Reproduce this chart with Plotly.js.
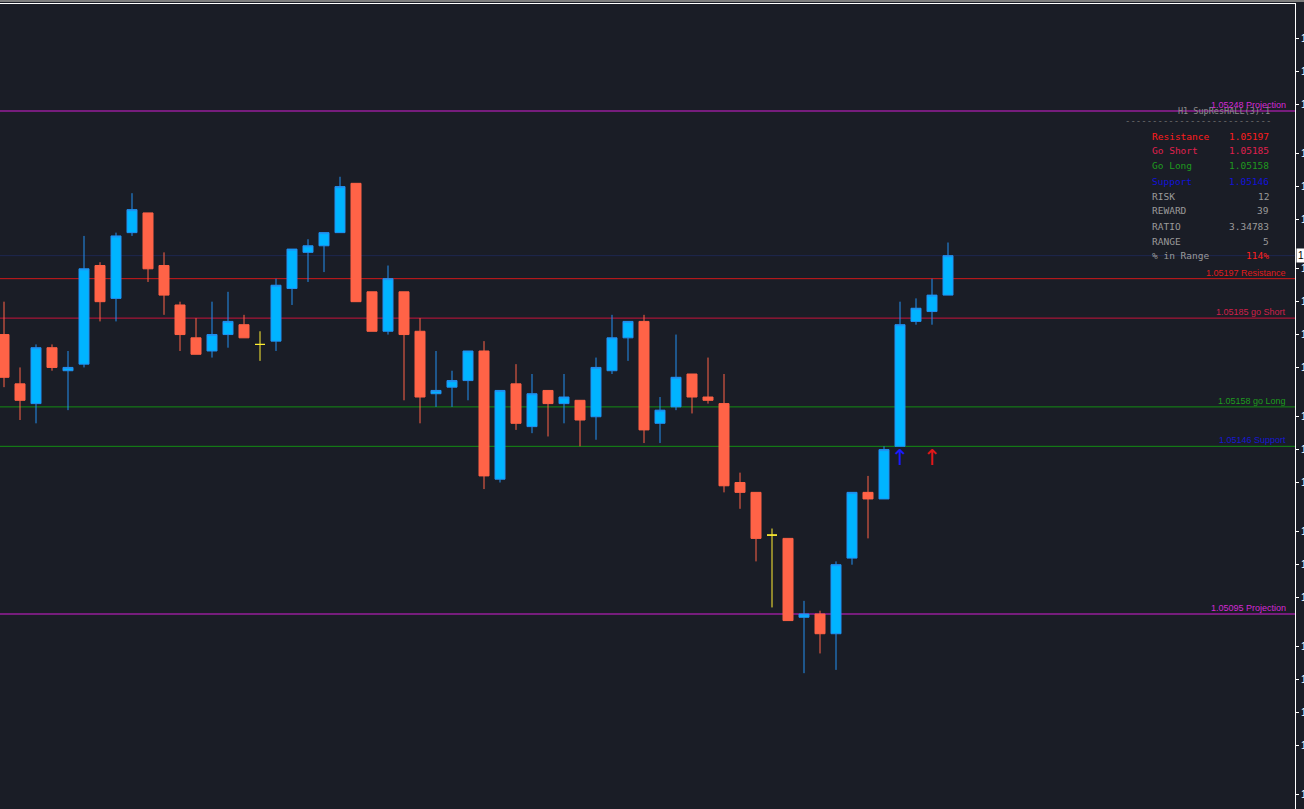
<!DOCTYPE html>
<html><head><meta charset="utf-8">
<script src="https://cdn.plot.ly/plotly-3.0.1.min.js"></script>
<style>
html,body{margin:0;padding:0;background:#1a1d26;overflow:hidden;}
#chart{position:absolute;left:0;top:0;width:1304px;height:809px;}
#topbar{position:absolute;left:0;top:0;width:1304px;height:2px;background:#7d7d7d;z-index:5;}
</style></head><body>
<div id="chart"></div><div id="topbar"></div>
<script>
// ---- candle data (H1 bars, oldest -> newest) ----
const opens = [
 1.05180,1.05165,1.05159,1.05176,1.05169,1.05171,1.05201,1.05191,1.05211,1.05217,
 1.05201,1.05189,1.05179,1.05175,1.05180,1.05183,1.05177,1.05178,1.05194,1.05205,
 1.05207,1.05211,1.05226,1.05193,1.05181,1.05193,1.05181,1.05162,1.05164,1.05166,
 1.05175,1.05136,1.05165,1.05152,1.05163,1.05159,1.05160,1.05155,1.05169,1.05179,
 1.05184,1.05153,1.05158,1.05168,1.05161,1.05159,1.05135,1.05132,1.05119,1.05118,
 1.05094,1.05095,1.05089,1.05112,1.05132,1.05130,1.05146,1.05184,1.05187,1.05192];
const highs = [
 1.05190,1.05170,1.05177,1.05177,1.05175,1.05210,1.05202,1.05211,1.05223,1.05217,
 1.05205,1.05190,1.05185,1.05190,1.05193,1.05186,1.05181,1.05197,1.05206,1.05209,
 1.05211,1.05228,1.05226,1.05193,1.05201,1.05193,1.05185,1.05175,1.05169,1.05175,
 1.05178,1.05163,1.05171,1.05168,1.05163,1.05168,1.05160,1.05173,1.05186,1.05184,
 1.05186,1.05161,1.05180,1.05168,1.05173,1.05168,1.05138,1.05132,1.05121,1.05118,
 1.05099,1.05096,1.05111,1.05132,1.05137,1.05146,1.05190,1.05191,1.05197,1.05208];
const lows = [
 1.05164,1.05154,1.05153,1.05169,1.05157,1.05170,1.05184,1.05184,1.05210,1.05196,
 1.05186,1.05175,1.05174,1.05173,1.05176,1.05179,1.05172,1.05175,1.05189,1.05196,
 1.05199,1.05211,1.05190,1.05181,1.05180,1.05160,1.05153,1.05158,1.05158,1.05160,
 1.05133,1.05135,1.05151,1.05150,1.05149,1.05153,1.05146,1.05148,1.05168,1.05172,
 1.05147,1.05147,1.05157,1.05156,1.05159,1.05132,1.05127,1.05111,1.05097,1.05093,
 1.05077,1.05083,1.05078,1.05110,1.05118,1.05130,1.05146,1.05183,1.05183,1.05192];
const closes = [
 1.05167,1.05160,1.05176,1.05170,1.05170,1.05200,1.05190,1.05210,1.05218,1.05200,
 1.05192,1.05180,1.05174,1.05180,1.05184,1.05179,1.05177,1.05195,1.05206,1.05207,
 1.05211,1.05225,1.05190,1.05181,1.05197,1.05180,1.05161,1.05163,1.05166,1.05175,
 1.05137,1.05163,1.05153,1.05162,1.05159,1.05161,1.05154,1.05170,1.05179,1.05184,
 1.05151,1.05157,1.05167,1.05161,1.05160,1.05134,1.05132,1.05118,1.05119,1.05093,
 1.05095,1.05089,1.05110,1.05132,1.05130,1.05145,1.05183,1.05188,1.05192,1.05204];

// ---- indicator levels ----
const levelNames  = ['Projection','Resistance','go Short','go Long','Support','Projection'];
const levelPrices = [1.05248, 1.05197, 1.05185, 1.05158, 1.05146, 1.05095];
const bidPrice = 1.05204;

// ---- signal arrows ----
const arrowIdx   = [56, 58];
const arrowPrice = [1.05142, 1.05142];

// ---- info panel ----
const panelTitle  = 'H1 SupResHALL(3).1';
const panelLabels = ['Resistance','Go Short','Go Long','Support','RISK','REWARD','RATIO','RANGE','% in Range'];
const panelValues = ['1.05197','1.05185','1.05158','1.05146','12','39','3.34783','5','114%'];

// ---- price scale ticks ----
const tickPrices = [1.05270,1.05260,1.05250,1.05235,1.05225,1.05215,1.05200,1.05190,1.05180,1.05170,
                    1.05155,1.05145,1.05135,1.05120,1.05110,1.05100,1.05085,1.05075,1.05065,1.05055,1.05040];

// ---- styles ----
const levelLineColors  = ['#d21fd2','#d01a1a','#c8143c','#148c14','#148c14','#d21fd2'];
const levelLabelColors = ['#d42ad4','#e01c1c','#d0204a','#1f9a1f','#1818d0','#d42ad4'];
const panelLabelColors = ['#ff1c1c','#e0204e','#1f9a1f','#1212d8','#9a9a9a','#9a9a9a','#9a9a9a','#9a9a9a','#9a9a9a'];
const panelValueColors = ['#ff1c1c','#e0204e','#1f9a1f','#1212d8','#9a9a9a','#9a9a9a','#9a9a9a','#9a9a9a','#ff2020'];

const PW = 1295, PT = 4, PB = 809, PH = PB - PT;
const px = v => v / PW;
const py = v => (PB - v) / PH;

const idx = opens.map((_, i) => i);
const mainI = idx.filter(i => opens[i] !== closes[i]);
const dojiI = idx.filter(i => opens[i] === closes[i]);
const pick = (arr, sel) => sel.map(i => arr[i]);

const traces = [
  {
    type: 'candlestick',
    x: mainI, open: pick(opens, mainI), high: pick(highs, mainI), low: pick(lows, mainI), close: pick(closes, mainI),
    increasing: {line: {color: '#2290f0', width: 1}, fillcolor: '#00b4ff'},
    decreasing: {line: {color: '#ff6347', width: 1}, fillcolor: '#ff6347'},
    hoverinfo: 'skip', showlegend: false
  },
  {
    type: 'candlestick',
    x: dojiI, open: pick(opens, dojiI), high: pick(highs, dojiI), low: pick(lows, dojiI), close: pick(closes, dojiI),
    increasing: {line: {color: '#ffee33', width: 1}, fillcolor: '#ffee33'},
    decreasing: {line: {color: '#ffee33', width: 1}, fillcolor: '#ffee33'},
    hoverinfo: 'skip', showlegend: false
  },
  {
    type: 'scatter', mode: 'text',
    x: arrowIdx, y: arrowPrice, text: arrowIdx.map(() => '↑'),
    textposition: 'middle center',
    textfont: {family: 'DejaVu Sans', size: 22, color: ['#1a1aff', '#e01818']},
    hoverinfo: 'skip', showlegend: false
  }
];

const shapes = [];
shapes.push({type: 'line', xref: 'paper', x0: 0, x1: 1, yref: 'y', y0: bidPrice, y1: bidPrice,
             line: {color: '#1e2750', width: 1}, layer: 'below'});
levelPrices.forEach((p, k) => {
  shapes.push({type: 'line', xref: 'paper', x0: 0, x1: 1, yref: 'y', y0: p, y1: p,
               line: {color: levelLineColors[k], width: 1}, layer: 'below'});
});

const annotations = [];
levelPrices.forEach((p, k) => {
  annotations.push({xref: 'paper', x: px(1288), xanchor: 'right', yref: 'y', y: p, yanchor: 'middle', yshift: 6,
    text: p.toFixed(5) + ' ' + levelNames[k], showarrow: false,
    font: {family: 'Liberation Sans, Arial, sans-serif', size: 9, color: levelLabelColors[k]}});
});
const monoFont = 'DejaVu Sans Mono, monospace';
annotations.unshift({xref: 'paper', x: px(1272), xanchor: 'right', yref: 'paper', y: py(111.5), yanchor: 'middle',
  text: panelTitle, showarrow: false, font: {family: monoFont, size: 8.5, color: '#8c8c8c'}});
annotations.unshift({xref: 'paper', x: px(1273), xanchor: 'right', yref: 'paper', y: py(121), yanchor: 'middle',
  text: '---------------------------', showarrow: false, font: {family: monoFont, size: 9, color: '#707070'}});
panelLabels.forEach((lab, k) => {
  const yy = py(136 + 15 * k);
  annotations.push({xref: 'paper', x: px(1150), xanchor: 'left', yref: 'paper', y: yy, yanchor: 'middle',
    text: lab, showarrow: false, font: {family: monoFont, size: 9.5, color: panelLabelColors[k]}});
  annotations.push({xref: 'paper', x: px(1271), xanchor: 'right', yref: 'paper', y: yy, yanchor: 'middle',
    text: panelValues[k], showarrow: false, font: {family: monoFont, size: 9.5, color: panelValueColors[k]}});
});
// current price marker on the scale
annotations.push({xref: 'paper', x: 1, xanchor: 'left', xshift: 1, yref: 'y', y: bidPrice, yanchor: 'middle',
  text: bidPrice.toFixed(5), showarrow: false, bgcolor: '#ffffff', borderpad: 1,
  font: {family: 'Liberation Sans, Arial, sans-serif', size: 10, color: '#000000'}});

// y range from pixel geometry of the reference (3.2876 px per point)
const ppp = 3.2876;
const yTop = 1.05248 + (111 - PT) / ppp * 1e-5;
const yBot = 1.05248 - (PB - 111) / ppp * 1e-5;

const layout = {
  width: 1304, height: 809,
  margin: {l: 0, r: 1304 - PW, t: PT, b: 0, pad: 0},
  paper_bgcolor: '#1a1d26', plot_bgcolor: '#1a1d26',
  showlegend: false, hovermode: false,
  boxgap: 0.375, boxgroupgap: 0,
  xaxis: {range: [-0.25, (PW - 4) / 16], showgrid: false, zeroline: false, showticklabels: false, ticks: '',
          side: 'top', showline: true, linecolor: '#ffffff', linewidth: 1, rangeslider: {visible: false}, fixedrange: true},
  yaxis: {side: 'right', range: [yBot, yTop], showgrid: false, zeroline: false, showline: true,
          linecolor: '#ffffff', linewidth: 1, ticks: 'outside', ticklen: 3, tickcolor: '#ffffff', tickwidth: 1,
          tickvals: tickPrices, ticktext: tickPrices.map(v => v.toFixed(5)),
          tickfont: {family: 'Liberation Sans, Arial, sans-serif', size: 10, color: '#ffffff'}, fixedrange: true},
  shapes: shapes,
  annotations: annotations
};

Plotly.newPlot('chart', traces, layout, {displayModeBar: false, staticPlot: true});
</script>
</body></html>
